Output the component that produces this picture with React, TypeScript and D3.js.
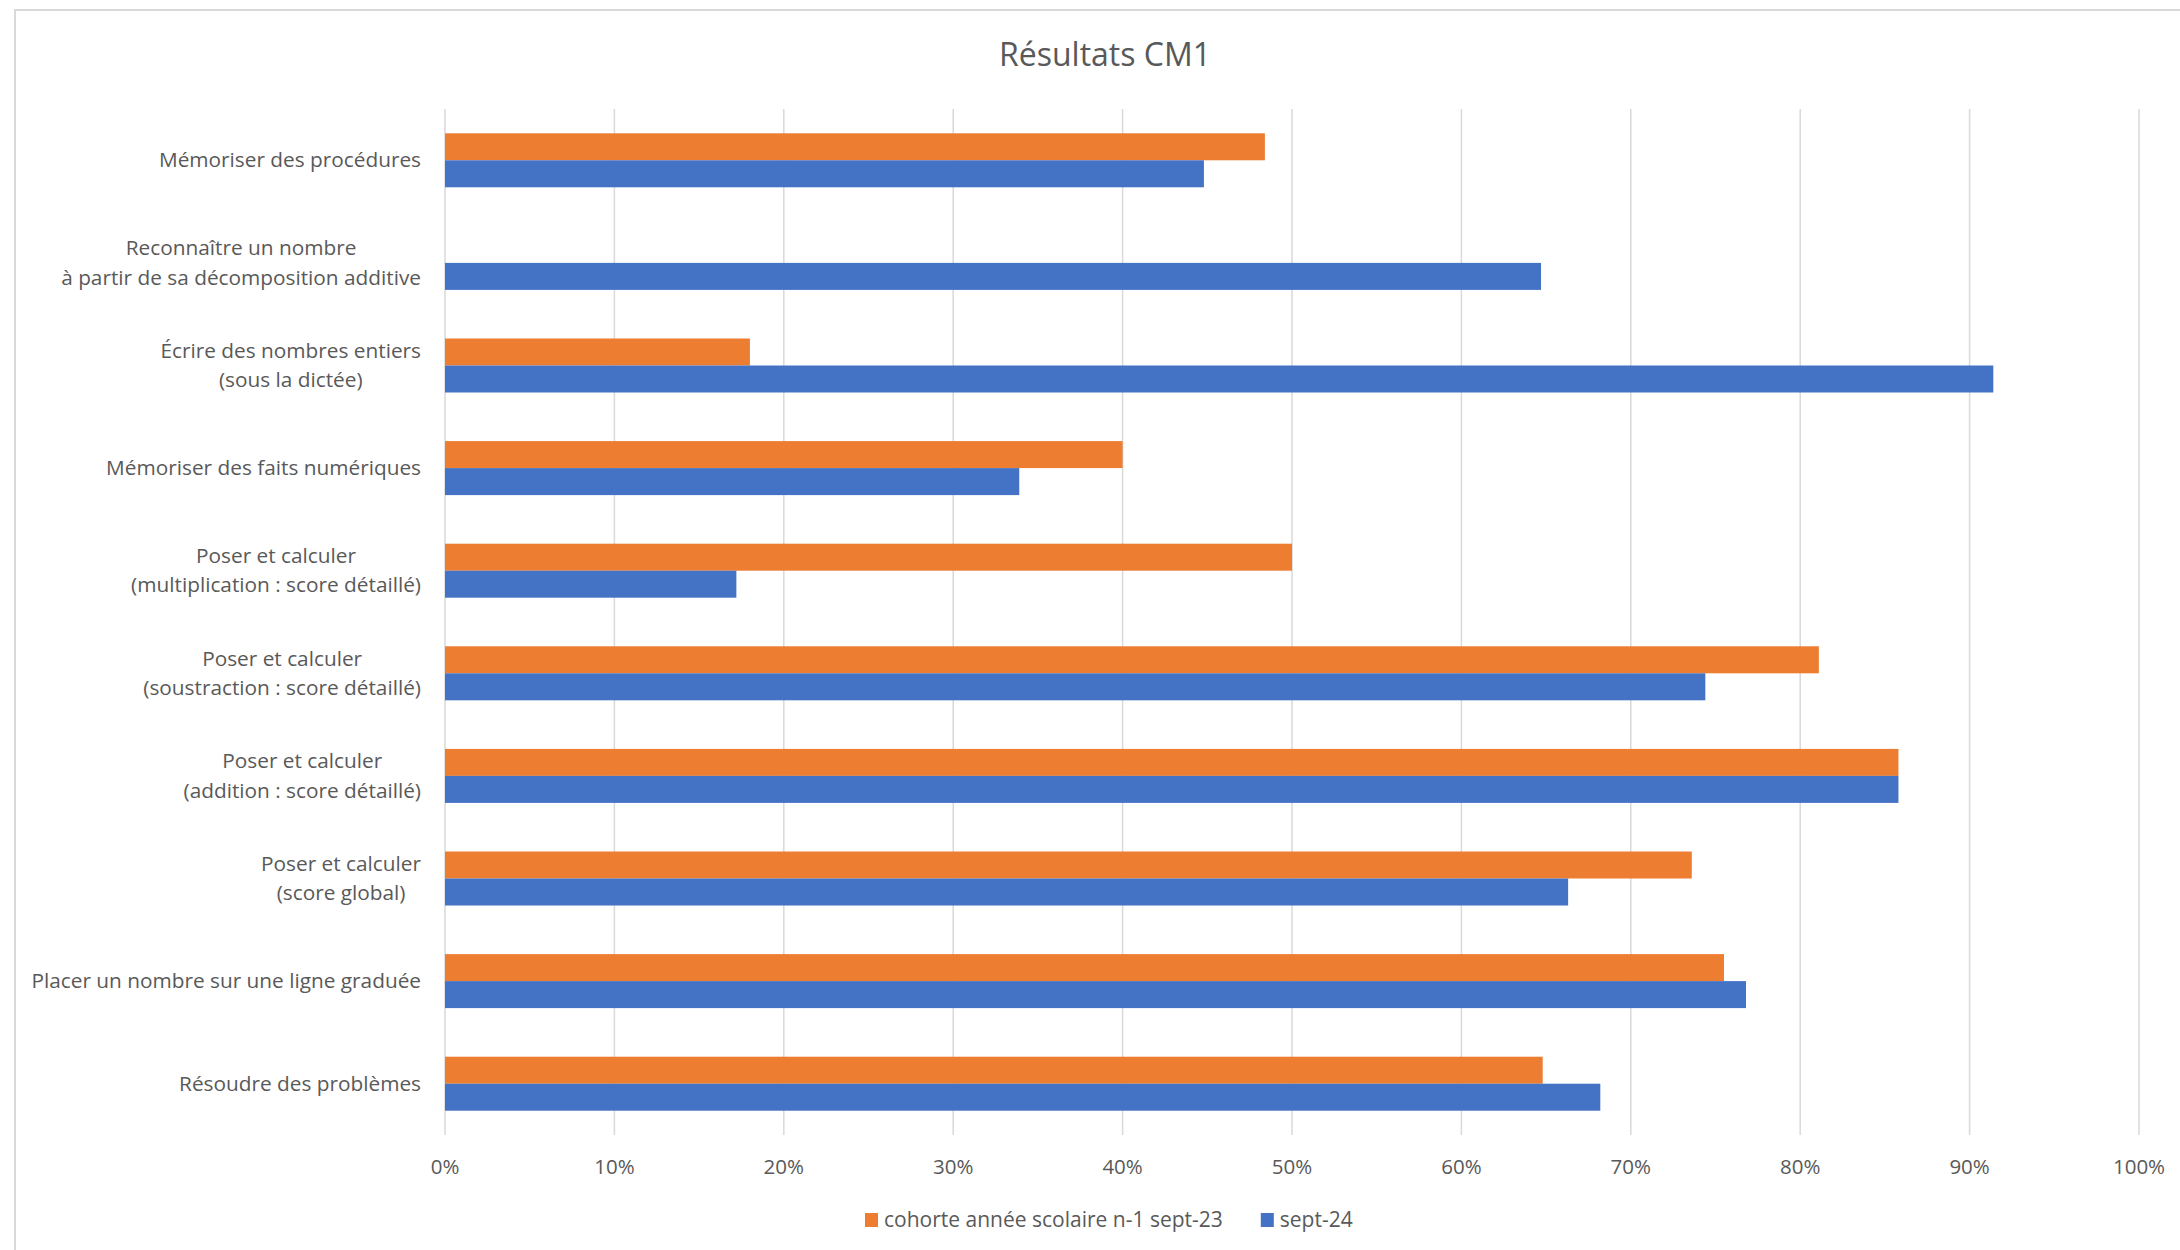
import React, { useEffect, useRef } from "react";
import * as d3 from "d3";

const categories: string[][] = [
  ["Mémoriser des procédures"],
  ["Reconnaître un nombre", "à partir de sa décomposition additive"],
  ["Écrire des nombres entiers", "(sous la dictée)"],
  ["Mémoriser des faits numériques"],
  ["Poser et calculer", "(multiplication : score détaillé)"],
  ["Poser et calculer", "(soustraction : score détaillé)"],
  ["Poser et calculer", "(addition : score détaillé)"],
  ["Poser et calculer", "(score global)"],
  ["Placer un nombre sur une ligne graduée"],
  ["Résoudre des problèmes"],
];

const seriesNames = ["cohorte année scolaire n-1 sept-23", "sept-24"];
const seriesColors = ["#ED7D31", "#4472C4"];

const cohorte23: (number | null)[] = [0.484, null, 0.18, 0.40, 0.50, 0.811, 0.858, 0.736, 0.755, 0.648];
const sept24: (number | null)[] = [0.448, 0.647, 0.914, 0.339, 0.172, 0.744, 0.858, 0.663, 0.768, 0.682];

const xTicks = [0, 0.1, 0.2, 0.3, 0.4, 0.5, 0.6, 0.7, 0.8, 0.9, 1.0];
const title = "Résultats CM1";

const W = 2180;
const H = 1250;
const FONT = "'Open Sans', Lato, sans-serif";
const TEXT = "#595959";

export default function App() {
  const ref = useRef<SVGSVGElement>(null);

  useEffect(() => {
    const svg = d3.select(ref.current);
    svg.selectAll("*").remove();

    const left = 445, right = 2139, top = 109, bottom = 1135;
    const x = d3.scaleLinear().domain([0, 1]).range([left, right]);
    const idx = categories.map((_, i) => String(i));
    const y = d3.scaleBand().domain(idx).range([top, bottom]).paddingInner(0.4737).paddingOuter(0.2368);
    const series = [cohorte23, sept24];
    const inner = d3.scaleBand().domain(["0", "1"]).range([0, y.bandwidth()]);

    svg.append("rect").attr("x", 0).attr("y", 0).attr("width", W).attr("height", H).attr("fill", "#fff");
    svg.append("rect").attr("x", 15).attr("y", 10).attr("width", W + 50).attr("height", H + 50)
      .attr("fill", "none").attr("stroke", "#d9d9d9").attr("stroke-width", 2);

    svg.append("text").attr("x", 1105).attr("y", 66).attr("text-anchor", "middle")
      .attr("font-family", FONT).attr("font-size", 32).attr("fill", TEXT).text(title);

    // gridlines
    svg.append("g").selectAll("line").data(xTicks).join("line")
      .attr("x1", d => x(d)).attr("x2", d => x(d)).attr("y1", top).attr("y2", bottom)
      .attr("stroke", "#d9d9d9").attr("stroke-width", 1.5);

    // tick labels
    svg.append("g").selectAll("text").data(xTicks).join("text")
      .attr("x", d => x(d)).attr("y", 1174).attr("text-anchor", "middle")
      .attr("font-family", FONT).attr("font-size", 20.5).attr("fill", TEXT)
      .text(d => d3.format(".0%")(d));

    // bars
    series.forEach((vals, s) => {
      svg.append("g").selectAll("rect").data(vals.map((v, i) => ({ v, i })).filter(d => d.v != null)).join("rect")
        .attr("x", x(0))
        .attr("y", d => (y(String(d.i)) as number) + (inner(String(s)) as number))
        .attr("width", d => x(d.v as number) - x(0))
        .attr("height", inner.bandwidth())
        .attr("fill", seriesColors[s]);
    });

    // category labels
    const labelRight = 421;
    const lineH = 29.5;
    categories.forEach((lines, i) => {
      const cy = (y(String(i)) as number) + y.bandwidth() / 2;
      const g = svg.append("g");
      const texts = lines.map((l, k) =>
        g.append("text").attr("font-family", FONT).attr("font-size", 20.8).attr("fill", TEXT)
          .attr("text-anchor", "middle")
          .attr("y", cy + (k - (lines.length - 1) / 2) * lineH + 7)
          .text(l)
      );
      const widths = texts.map(t => (t.node() as SVGTextElement).getComputedTextLength());
      const maxW = Math.max(...widths);
      texts.forEach(t => t.attr("x", labelRight - maxW / 2));
    });

    // legend
    const legY = 1220;
    let lx = 865;
    seriesNames.forEach((name, s) => {
      svg.append("rect").attr("x", lx).attr("y", legY - 7).attr("width", 13).attr("height", 14).attr("fill", seriesColors[s]);
      const t = svg.append("text").attr("x", lx + 19).attr("y", legY + 7)
        .attr("font-family", FONT).attr("font-size", 21).attr("fill", TEXT).text(name);
      const w = (t.node() as SVGTextElement).getComputedTextLength();
      lx = lx + 19 + w + 38;
    });
  }, []);

  return (
    <div style={{ position: "absolute", left: 0, top: 0 }}>
      <svg ref={ref} width={W} height={H} style={{ display: "block" }} />
    </div>
  );
}
